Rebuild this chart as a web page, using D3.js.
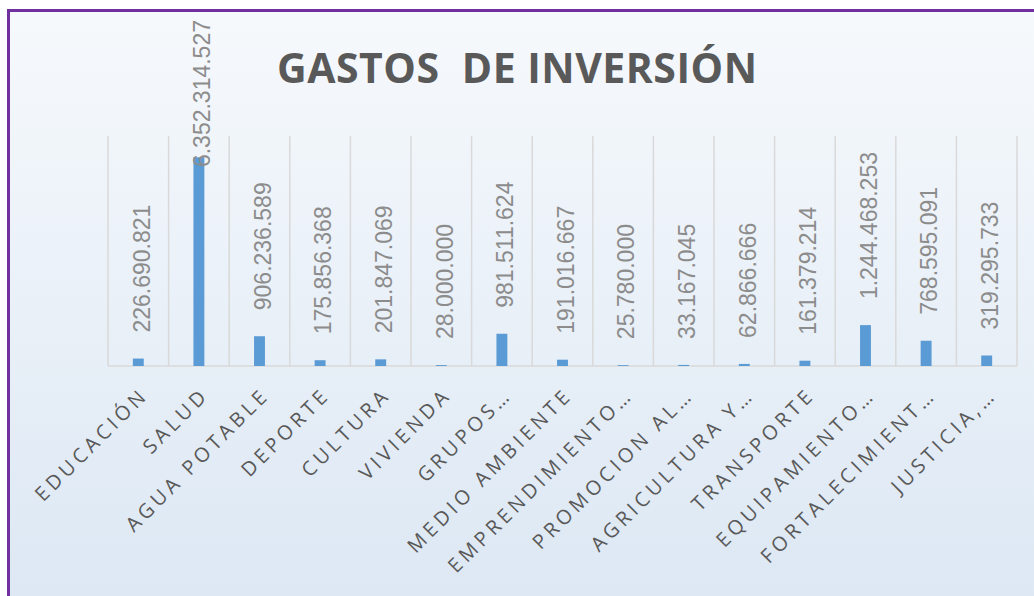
<!DOCTYPE html>
<html>
<head>
<meta charset="utf-8">
<script src="https://cdn.jsdelivr.net/npm/d3@7"></script>
<style>
  body { margin: 0; background: #fff; }
  text { font-family: "Open Sans", "Liberation Sans", sans-serif; }
</style>
</head>
<body>
<div id="grafico"></div>
<script>
// Datos del grafico
var categorias = ["EDUCACIÓN", "SALUD", "AGUA POTABLE", "DEPORTE", "CULTURA", "VIVIENDA",
  "GRUPOS…", "MEDIO AMBIENTE", "EMPRENDIMIENTO…", "PROMOCION AL…", "AGRICULTURA Y…",
  "TRANSPORTE", "EQUIPAMIENTO…", "FORTALECIMIENT…", "JUSTICIA,…"];
var valores = [226690821, 6352314527, 906236589, 175856368, 201847069, 28000000,
  981511624, 191016667, 25780000, 33167045, 62866666, 161379214, 1244468253,
  768595091, 319295733];
var titulo = "GASTOS  DE INVERSIÓN";
var ejeMax = 7000000000;

// Dimensiones
var width = 1034, height = 596;
var margen = { izq: 108, der: 1017, arriba: 136, base: 366 };

var svg = d3.select("#grafico").append("svg")
  .attr("width", width).attr("height", height);

// Fondo degradado
var defs = svg.append("defs");
var grad = defs.append("linearGradient").attr("id", "fondo")
  .attr("x1", 0).attr("y1", 0).attr("x2", 0).attr("y2", 1);
grad.append("stop").attr("offset", "0%").attr("stop-color", "#f6f9fc");
grad.append("stop").attr("offset", "100%").attr("stop-color", "#dae6f3");

svg.append("rect")
  .attr("x", 8.5).attr("y", 10.5)
  .attr("width", 1100).attr("height", 650)
  .attr("fill", "url(#fondo)")
  .attr("stroke", "#7030a0")
  .attr("stroke-width", 3);

// Escalas
var x = d3.scaleBand().domain(categorias).range([margen.izq, margen.der]).padding(0);
var y = d3.scaleLinear().domain([0, ejeMax]).range([margen.base, margen.arriba]);

var fmt = d3.formatLocale({ decimal: ",", thousands: ".", grouping: [3], currency: ["$", ""] }).format(",d");

// Lineas de division
var bordes = categorias.map(function(c) { return x(c); }).concat([margen.der]);
svg.append("g").selectAll("line")
  .data(bordes).enter().append("line")
  .attr("x1", function(d) { return d; }).attr("x2", function(d) { return d; })
  .attr("y1", margen.arriba).attr("y2", margen.base)
  .attr("stroke", "#d9d9d9").attr("stroke-width", 1.5);

svg.append("line")
  .attr("x1", margen.izq).attr("x2", margen.der)
  .attr("y1", margen.base).attr("y2", margen.base)
  .attr("stroke", "#d9d9d9").attr("stroke-width", 1.5);

// Barras
var bw = x.bandwidth() * 0.18;
svg.append("g").selectAll("rect")
  .data(valores).enter().append("rect")
  .attr("x", function(d, i) { return x(categorias[i]) + x.bandwidth() / 2 - bw / 2; })
  .attr("y", function(d) { return y(d); })
  .attr("width", bw)
  .attr("height", function(d) { return margen.base - y(d); })
  .attr("fill", "#5b9bd5");

// Etiquetas de valor
var etiquetas = svg.append("g").selectAll("text")
  .data(valores).enter().append("text")
  .text(function(d) { return fmt(d); })
  .style("font-family", "'Liberation Sans', sans-serif")
  .style("font-size", "23px")
  .style("fill", "#8c8c8c")
  .attr("dy", "0.36em");

etiquetas.each(function(d, i) {
  var len = this.getComputedTextLength();
  var cx = x(categorias[i]) + x.bandwidth() / 2 + 3;
  var cy = Math.max(y(d) - 26, 20 + len);
  d3.select(this).attr("transform", "translate(" + cx + "," + cy + ") rotate(-90)");
});

// Etiquetas de categoria
svg.append("g").selectAll("text")
  .data(categorias).enter().append("text")
  .text(function(d) { return d; })
  .attr("text-anchor", "end")
  .attr("dy", "0.72em")
  .style("font-size", "20px")
  .style("letter-spacing", "4px")
  .style("fill", "#595959")
  .attr("transform", function(d) {
    return "translate(" + (x(d) + x.bandwidth() / 2 + 1) + "," + 386 + ") rotate(-45)";
  });

// Titulo
svg.append("text")
  .attr("x", 517).attr("y", 83)
  .attr("text-anchor", "middle")
  .attr("textLength", 480)
  .attr("lengthAdjust", "spacing")
  .style("font-size", "41px")
  .style("font-weight", "bold")
  .style("fill", "#595959")
  .style("white-space", "pre")
  .text(titulo);
</script>
</body>
</html>
